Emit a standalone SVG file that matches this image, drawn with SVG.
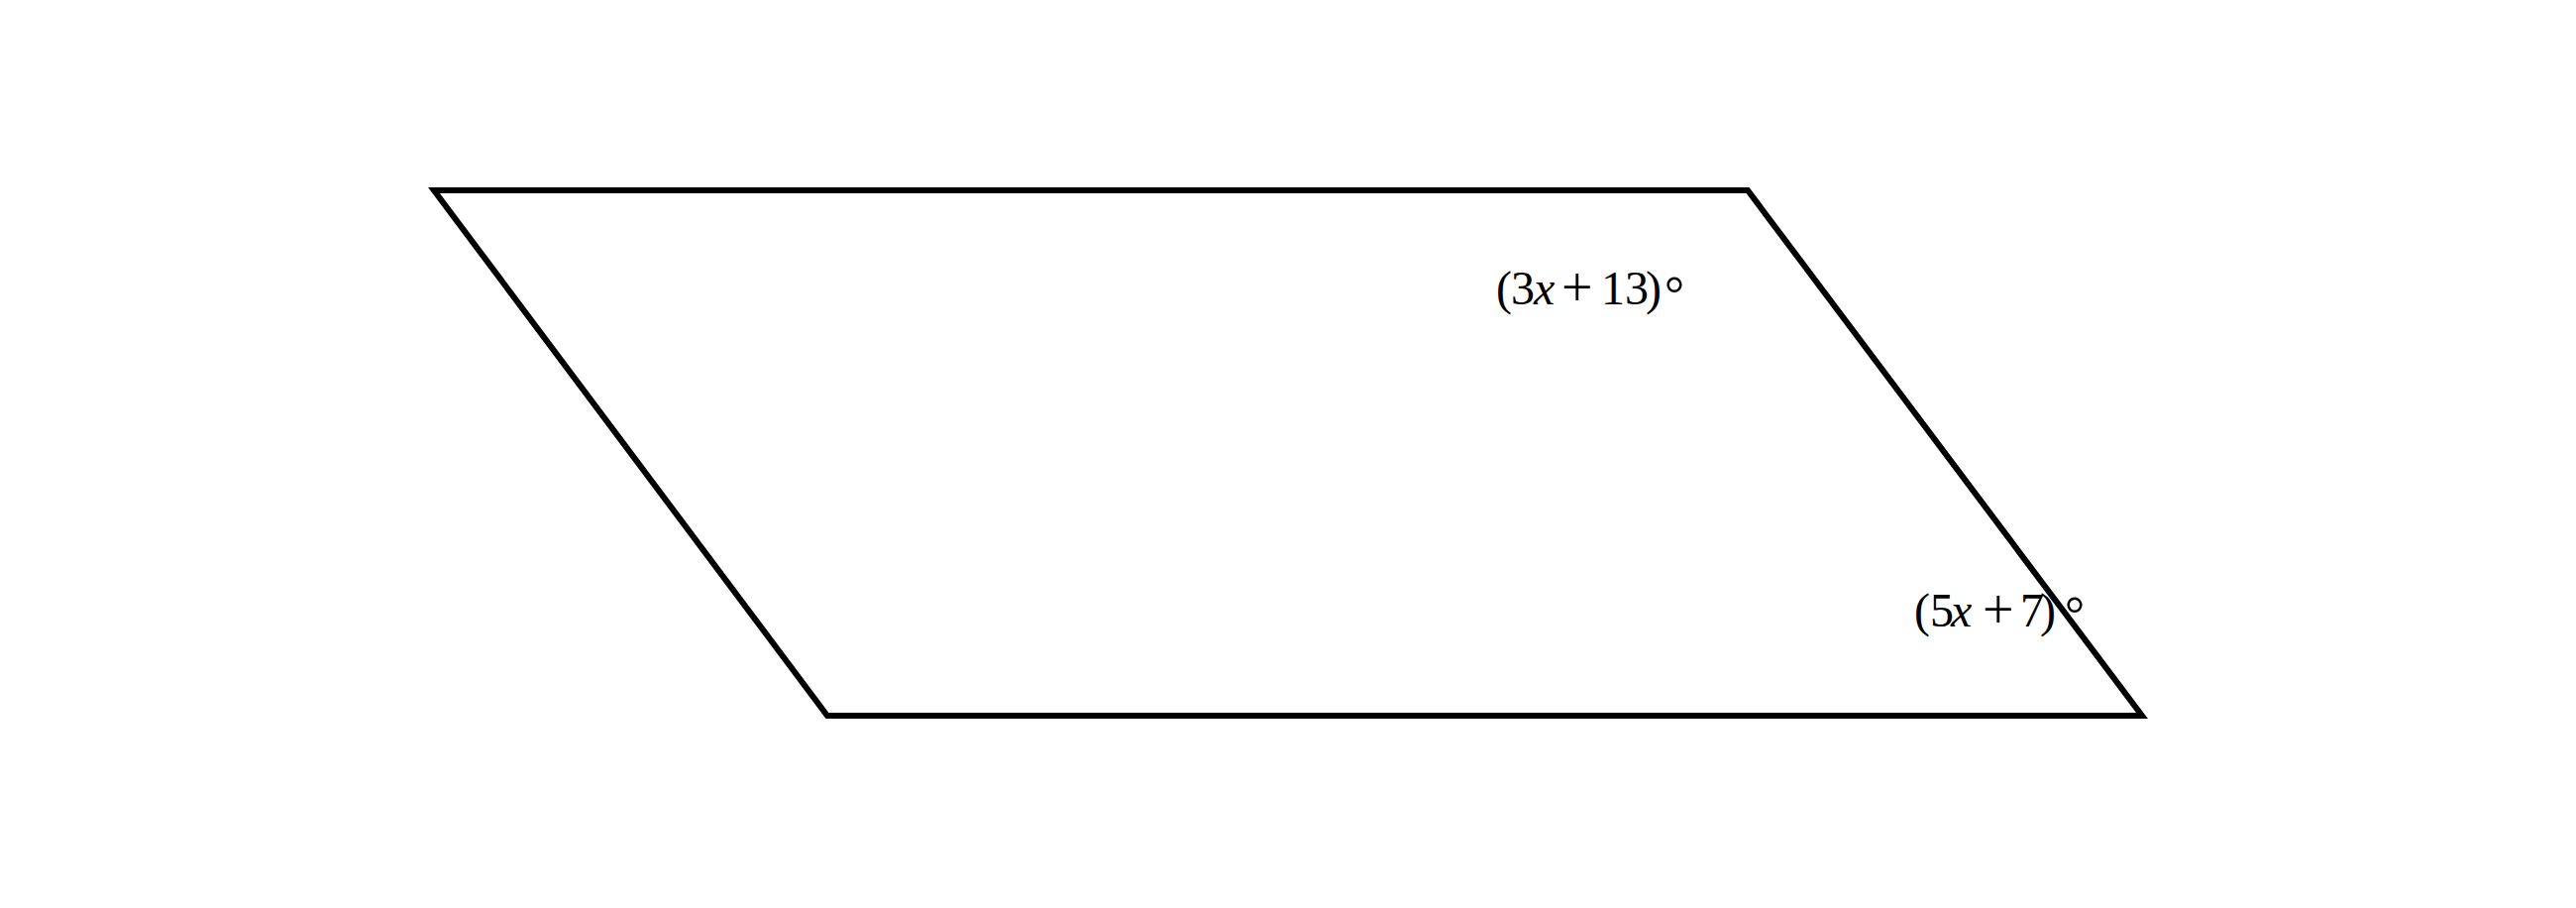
<svg xmlns="http://www.w3.org/2000/svg" width="2600" height="916" viewBox="0 0 2600 916">
<style>
.edge{fill:none;stroke:#000;stroke-width:6;stroke-linejoin:miter;stroke-miterlimit:10}
.lbl{font-family:"Liberation Serif","Times New Roman",serif;font-size:48px;fill:#000}
.it{font-style:italic}
.op{font-size:56px}
.deg{font-size:50px}
</style>
<rect width="2600" height="916" fill="#fff"/>
<g id="parallelogram">
<polygon class="edge" points="438,192 1764,192 2162,722 835,722"/>
</g>
<g id="label-top">
<text class="lbl" y="307"><tspan x="1510">(</tspan><tspan x="1525">3</tspan><tspan class="it" x="1548">x</tspan><tspan class="op" x="1576" y="309">+</tspan><tspan x="1616" y="307">13</tspan><tspan x="1661">)</tspan><tspan class="deg" x="1680" y="313">°</tspan></text>
</g>
<g id="label-bottom">
<text class="lbl" y="632"><tspan x="1932">(</tspan><tspan x="1948">5</tspan><tspan class="it" x="1969">x</tspan><tspan class="op" x="2001" y="634">+</tspan><tspan x="2039" y="632">7</tspan><tspan x="2059">)</tspan><tspan class="deg" x="2084" y="636">°</tspan></text>
</g>
</svg>
